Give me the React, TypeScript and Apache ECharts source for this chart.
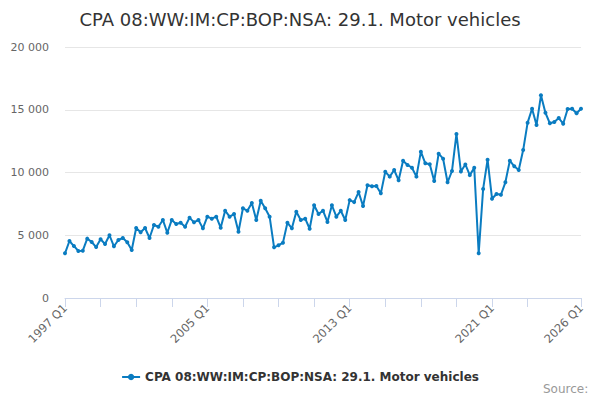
import React, { useEffect, useRef } from 'react';
import * as echarts from 'echarts';

const seriesName = 'CPA 08:WW:IM:CP:BOP:NSA: 29.1. Motor vehicles';

// quarterly values, 1997 Q1 .. 2026 Q1
const values = [
  3560, 4540, 4140, 3750, 3770, 4730, 4460, 4060, 4680, 4300,
  5000, 4120, 4620, 4780, 4440, 3820, 5580, 5240, 5580, 4780,
  5820, 5680, 6220, 5200, 6220, 5900, 6000, 5680, 6400, 6030,
  6220, 5550, 6480, 6320, 6480, 5600, 6960, 6480, 6690, 5280,
  7150, 6960, 7570, 6220, 7750, 7150, 6480, 4040, 4200, 4410,
  6000, 5550, 6880, 6220, 6320, 5520, 7390, 6690, 6960, 6060,
  7390, 6480, 6950, 6220, 7800, 7640, 8440, 7330, 8980, 8900,
  8920, 8340, 10060, 9670, 10200, 9380, 10940, 10600, 10380, 9670,
  11660, 10730, 10650, 9320, 11500, 11100, 9220, 10120, 13070, 10080,
  10640, 9790, 10370, 3560, 8690, 11020, 7910, 8290, 8230, 9220,
  10940, 10490, 10200, 11790, 13970, 15080, 13780, 16150, 14760, 13920,
  14020, 14340, 13890, 15060, 15080, 14720, 15080,
];

const startYear = 1997;
const categories: string[] = values.map(
  (_, i) => `${startYear + Math.floor(i / 4)} Q${(i % 4) + 1}`
);
const lastIndex = categories.length - 1;

const yMax = 20000;
const yInterval = 5000;

const App: React.FC = () => {
  const chartRef = useRef<HTMLDivElement | null>(null);

  useEffect(() => {
    const chart = echarts.init(chartRef.current!, undefined, { renderer: 'svg' });
    const font = 'DejaVu Sans, Verdana, sans-serif';

    chart.setOption({
      animation: false,
      textStyle: { fontFamily: font },
      title: {
        text: seriesName,
        left: 'center',
        top: 5,
        textStyle: { fontFamily: font, fontSize: 18, fontWeight: 'normal', color: '#333' },
      },
      legend: {
        data: [seriesName],
        top: 366,
        left: 'center',
        itemWidth: 18,
        itemHeight: 8,
        textStyle: { fontFamily: font, fontSize: 12, fontWeight: 'bold', color: '#333' },
      },
      graphic: [
        {
          type: 'text',
          left: 543,
          top: 383,
          style: { text: 'Source:', fill: '#999', font: `12px ${font}` },
        },
      ],
      grid: { left: 65, right: 19, top: 47, bottom: 102 },
      xAxis: {
        type: 'category',
        data: categories,
        boundaryGap: false,
        axisLine: { lineStyle: { color: '#ccd6eb' } },
        axisTick: {
          alignWithLabel: true,
          length: 9,
          lineStyle: { color: '#ccd6eb' },
          interval: (i: number) => (i % 8 === 0 && i <= lastIndex - 12) || i === lastIndex,
        },
        axisLabel: {
          rotate: 45,
          color: '#666',
          fontSize: 11.5,
          fontFamily: font,
          margin: 8,
          interval: (i: number) => i % 32 === 0 || i === lastIndex,
        },
      },
      yAxis: {
        type: 'value',
        min: 0,
        max: yMax,
        interval: yInterval,
        axisLine: { show: false },
        axisTick: { show: false },
        splitLine: { lineStyle: { color: '#e6e6e6' } },
        axisLabel: {
          color: '#666',
          fontSize: 11,
          fontFamily: font,
          margin: 16,
          formatter: (v: number) => String(v).replace(/\B(?=(\d{3})+(?!\d))/g, ' '),
        },
      },
      series: [
        {
          name: seriesName,
          type: 'line',
          data: values,
          symbol: 'circle',
          symbolSize: 4,
          showAllSymbol: true,
          itemStyle: { color: '#0a7cc1' },
          lineStyle: { color: '#0a7cc1', width: 2 },
        },
      ],
    });

    return () => {
      chart.dispose();
    };
  }, []);

  return (
    <div
      ref={chartRef}
      style={{ position: 'absolute', left: 0, top: 0, width: 600, height: 400 }}
    />
  );
};

export default App;
